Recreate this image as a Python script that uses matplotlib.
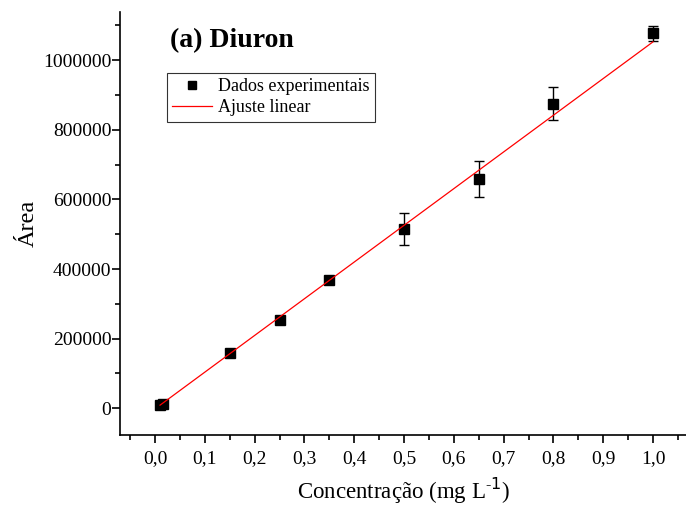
import numpy as np
import matplotlib.pyplot as plt
from matplotlib.lines import Line2D
from matplotlib.ticker import MultipleLocator, FuncFormatter

plt.rcParams['font.family'] = ['Liberation Serif', 'DejaVu Serif']

# Diuron calibration data
conc = [0.01, 0.015, 0.15, 0.25, 0.35, 0.50, 0.65, 0.80, 1.00]
area = [10000, 12000, 158000, 254000, 368000, 515000, 658000, 875000, 1077000]
area_err = [2000, 2000, 3000, 4000, 6000, 46000, 51000, 47000, 21000]

# linear fit parameters
fit_slope = 1054000
fit_intercept = -1500
fit_range = [0.01, 1.0]

fig = plt.figure(figsize=(6.86, 5.07), dpi=100)
ax = fig.add_axes([0.175, 0.142, 0.825, 0.834])

ax.errorbar(conc, area, yerr=area_err, fmt='s', color='black', ms=6.5,
            ecolor='black', elinewidth=1, capsize=3.5, capthick=1, zorder=3)
xf = np.array(fit_range)
ax.plot(xf, fit_slope * xf + fit_intercept, color='red', lw=0.9, zorder=4)

ax.set_xlim(-0.0703, 1.0663)
ax.set_ylim(-76700, 1137800)

ax.xaxis.set_major_locator(MultipleLocator(0.1))
ax.xaxis.set_minor_locator(MultipleLocator(0.05))
ax.yaxis.set_major_locator(MultipleLocator(200000))
ax.yaxis.set_minor_locator(MultipleLocator(100000))
ax.xaxis.set_major_formatter(FuncFormatter(lambda v, p: f'{v:.1f}'.replace('.', ',')))
ax.yaxis.set_major_formatter(FuncFormatter(lambda v, p: f'{v:.0f}'))

for s in ['top', 'right']:
    ax.spines[s].set_visible(False)
for s in ['left', 'bottom']:
    ax.spines[s].set_linewidth(1.2)

ax.tick_params(which='major', direction='out', length=6, width=1.2, labelsize=14)
ax.tick_params(which='minor', direction='out', length=3.7, width=1.2)
ax.tick_params(axis='x', pad=5)
ax.tick_params(axis='y', pad=0.3)

ax.set_xlabel('Concentração (mg L$^{\\mathregular{\u2010}1}$)', fontsize=16.5, labelpad=6)
ax.set_ylabel('Área', fontsize=17.5)
ax.yaxis.set_label_coords(-0.143, 0.5)

ax.text(0.088, 0.917, '(a) Diuron', transform=ax.transAxes, fontsize=20,
        fontweight='bold', va='baseline')

handles = [Line2D([], [], ls='none', marker='s', color='black', ms=6),
           Line2D([], [], color='red', lw=0.9)]
labels = ['Dados experimentais', 'Ajuste linear']
leg = ax.legend(handles, labels, loc='upper left', bbox_to_anchor=(0.083, 0.856),
                fontsize=13, frameon=True, fancybox=False, edgecolor='black',
                handlelength=2.2, handletextpad=0.35, borderpad=0.3,
                labelspacing=0.2, borderaxespad=0)
leg.get_frame().set_linewidth(0.8)

fig.savefig('out.png', dpi=100)
